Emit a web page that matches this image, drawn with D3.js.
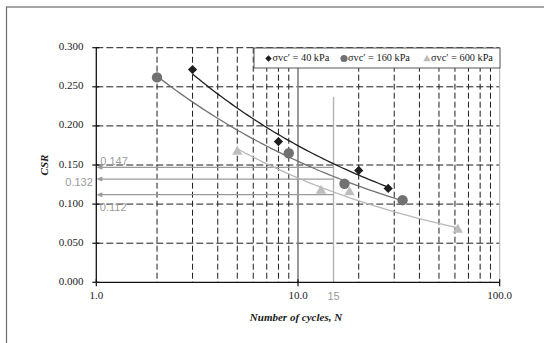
<!DOCTYPE html>
<html>
<head>
<meta charset="utf-8">
<script src="https://cdn.jsdelivr.net/npm/d3@7"></script>
<style>
  html, body { margin: 0; padding: 0; background: #fff; }
  svg { display: block; }
</style>
</head>
<body>
<svg id="chart" width="544" height="343"></svg>
<script>
// Cyclic strength: CSR versus number of cycles for three confining stresses
const seriesNames = ["σvc′ = 40 kPa", "σvc′ = 160 kPa", "σvc′ = 600 kPa"];
const cycles40  = [3, 8, 20, 28];
const csr40     = [0.272, 0.180, 0.143, 0.120];
const cycles160 = [2, 9, 17, 33];
const csr160    = [0.262, 0.165, 0.126, 0.105];
const cycles600 = [5, 13, 18, 62];
const csr600    = [0.168, 0.118, 0.116, 0.068];

const refCycles = 15;
const refCsr = [0.147, 0.132, 0.112];

const xTickValues = [1, 10, 100];
const xTickLabels = ["1.0", "10.0", "100.0"];
const yTickValues = [0, 0.05, 0.1, 0.15, 0.2, 0.25, 0.3];
const yTickLabels = ["0.000", "0.050", "0.100", "0.150", "0.200", "0.250", "0.300"];

const svg = d3.select("#chart");
const serif = "'Liberation Serif', 'Times New Roman', serif";
const sans = "'Liberation Sans', Arial, sans-serif";

const plotLeft = 96.3, plotRight = 499.7, plotTop = 47.7, plotBottom = 282.3;
const x = d3.scaleLog().domain([1, 100]).range([plotLeft, plotRight]);
const y = d3.scaleLinear().domain([0, 0.3]).range([plotBottom, plotTop]);

// outer chart frame
svg.append("rect").attr("x", 6.5).attr("y", 7).attr("width", 600).attr("height", 400)
  .attr("fill", "none").attr("stroke", "#6a6a6a").attr("stroke-width", 1.2);

// grid
const minorX = [];
[1, 10].forEach(d => { for (let k = 2; k <= 9; k++) minorX.push(d * k); });
const grid = svg.append("g");
grid.selectAll(".vx").data(minorX).join("line")
  .attr("x1", d => x(d)).attr("x2", d => x(d)).attr("y1", plotTop).attr("y2", plotBottom)
  .attr("stroke", "#1e1e1e").attr("stroke-width", 1).attr("stroke-dasharray", "6,3");
grid.selectAll(".hy").data(yTickValues.slice(1)).join("line")
  .attr("x1", plotLeft).attr("x2", plotRight).attr("y1", d => y(d)).attr("y2", d => y(d))
  .attr("stroke", "#1e1e1e").attr("stroke-width", 1).attr("stroke-dasharray", "7,3");
grid.append("line").attr("x1", x(10)).attr("x2", x(10)).attr("y1", plotTop).attr("y2", plotBottom)
  .attr("stroke", "#808080").attr("stroke-width", 1.6);
grid.append("line").attr("x1", x(100)).attr("x2", x(100)).attr("y1", plotTop).attr("y2", plotBottom)
  .attr("stroke", "#b0b0b0").attr("stroke-width", 1);

// reference line at N = 15 and arrows to the CSR axis
const refG = svg.append("g");
refG.append("line").attr("x1", x(refCycles)).attr("x2", x(refCycles))
  .attr("y1", y(0.237)).attr("y2", plotBottom)
  .attr("stroke", "#b3b3b3").attr("stroke-width", 1.4);
refG.selectAll(".arr").data(refCsr).join("line")
  .attr("x1", x(refCycles)).attr("x2", plotLeft + 4).attr("y1", d => y(d)).attr("y2", d => y(d))
  .attr("stroke", "#9a9a9a").attr("stroke-width", 1.3);
refG.selectAll(".head").data(refCsr).join("path")
  .attr("d", d => `M${plotLeft},${y(d)} L${plotLeft + 6},${y(d) - 2.5} L${plotLeft + 6},${y(d) + 2.5} Z`)
  .attr("fill", "#9a9a9a");
const refLabelPos = [
  { v: refCsr[0], x: plotLeft + 4, dy: -5, anchor: "start" },
  { v: refCsr[1], x: plotLeft - 3.5, dy: 4.5, anchor: "end" },
  { v: refCsr[2], x: plotLeft + 3.5, dy: 13.5, anchor: "start" }
];
refG.selectAll(".rl").data(refLabelPos).join("text")
  .attr("x", d => d.x).attr("y", d => y(d.v) + d.dy)
  .attr("text-anchor", d => d.anchor).attr("dominant-baseline", "middle")
  .attr("font-family", sans).attr("font-size", 11).attr("fill", "#9a9a9a")
  .text(d => d3.format(".3f")(d.v));
refG.append("text").attr("x", x(refCycles)).attr("y", 297)
  .attr("text-anchor", "middle").attr("dominant-baseline", "middle")
  .attr("font-family", sans).attr("font-size", 11).attr("fill", "#9a9a9a")
  .text(String(refCycles));

// axes
const axisG = svg.append("g");
axisG.append("line").attr("x1", plotLeft).attr("x2", plotLeft).attr("y1", plotTop).attr("y2", plotBottom)
  .attr("stroke", "#111").attr("stroke-width", 1.3);
axisG.append("line").attr("x1", plotLeft).attr("x2", plotRight).attr("y1", plotBottom).attr("y2", plotBottom)
  .attr("stroke", "#111").attr("stroke-width", 1.3);
axisG.selectAll(".yt").data(yTickValues).join("line")
  .attr("x1", plotLeft - 4).attr("x2", plotLeft + 3).attr("y1", d => y(d)).attr("y2", d => y(d))
  .attr("stroke", "#111").attr("stroke-width", 1.2);
axisG.selectAll(".xt").data(xTickValues).join("line")
  .attr("x1", d => x(d)).attr("x2", d => x(d)).attr("y1", plotBottom - 3).attr("y2", plotBottom + 4)
  .attr("stroke", "#111").attr("stroke-width", 1.2);
axisG.selectAll(".yl").data(yTickValues).join("text")
  .attr("x", 83.5).attr("y", d => y(d)).attr("text-anchor", "end").attr("dominant-baseline", "middle")
  .attr("font-family", serif).attr("font-size", 11).attr("fill", "#1a1a1a")
  .text((d, i) => yTickLabels[i]);
axisG.selectAll(".xl").data(xTickValues).join("text")
  .attr("x", d => x(d)).attr("y", 296.5).attr("text-anchor", "middle").attr("dominant-baseline", "middle")
  .attr("font-family", serif).attr("font-size", 11).attr("fill", "#1a1a1a")
  .text((d, i) => xTickLabels[i]);

// axis titles
svg.append("text").attr("transform", `translate(45,${(plotTop + plotBottom) / 2})rotate(-90)`)
  .attr("text-anchor", "middle").attr("dominant-baseline", "middle")
  .attr("font-family", serif).attr("font-size", 11).attr("font-weight", "bold").attr("font-style", "italic")
  .attr("fill", "#1a1a1a").text("CSR");
svg.append("text").attr("x", 296).attr("y", 318.5)
  .attr("text-anchor", "middle").attr("dominant-baseline", "middle")
  .attr("font-family", serif).attr("font-size", 11).attr("font-weight", "bold").attr("font-style", "italic")
  .attr("fill", "#1a1a1a").text("Number of cycles, N");

// power-law trendlines fitted to each series (least squares in log space)
function powerFit(ns, cs) {
  const lx = ns.map(Math.log), ly = cs.map(Math.log);
  const mx = d3.mean(lx), my = d3.mean(ly);
  const b = d3.sum(lx, (v, i) => (v - mx) * (ly[i] - my)) / d3.sum(lx, v => (v - mx) * (v - mx));
  const a = Math.exp(my - b * mx);
  return n => a * Math.pow(n, b);
}

const series = [
  { name: seriesNames[0], n: cycles40,  c: csr40,  color: "#1f1f1f", line: "#1f1f1f", shape: "diamond" },
  { name: seriesNames[1], n: cycles160, c: csr160, color: "#717171", line: "#717171", shape: "circle" },
  { name: seriesNames[2], n: cycles600, c: csr600, color: "#bdbdbd", line: "#b8b8b8", shape: "triangle" }
];

const line = d3.line().x(d => x(d[0])).y(d => y(d[1]));
series.forEach(s => {
  const f = powerFit(s.n, s.c);
  const n0 = d3.min(s.n), n1 = d3.max(s.n);
  const pts = d3.range(0, 61).map(i => {
    const n = n0 * Math.pow(n1 / n0, i / 60);
    return [n, f(n)];
  });
  svg.append("path").attr("d", line(pts)).attr("fill", "none")
    .attr("stroke", s.line).attr("stroke-width", 1.3);
});

function marker(g, shape, cx, cy, size, color) {
  if (shape === "diamond") {
    g.append("path").attr("d", `M${cx},${cy - size} L${cx + size},${cy} L${cx},${cy + size} L${cx - size},${cy} Z`).attr("fill", color);
  } else if (shape === "circle") {
    g.append("circle").attr("cx", cx).attr("cy", cy).attr("r", size).attr("fill", color);
  } else {
    g.append("path").attr("d", `M${cx},${cy - size * 1.05} L${cx + size * 1.05},${cy + size * 0.75} L${cx - size * 1.05},${cy + size * 0.75} Z`).attr("fill", color);
  }
}

const markG = svg.append("g");
series.forEach(s => {
  s.n.forEach((n, i) => {
    const size = s.shape === "diamond" ? 4.6 : (s.shape === "circle" ? 5.2 : 5);
    marker(markG, s.shape, x(n), y(s.c[i]), size, s.color);
  });
});

// legend
const lg = svg.append("g");
lg.append("rect").attr("x", 254).attr("y", 48).attr("width", 246).attr("height", 20)
  .attr("fill", "#fff").attr("stroke", "#555").attr("stroke-width", 1);
const legendX = [268.5, 344, 427];
series.forEach((s, i) => {
  const size = s.shape === "diamond" ? 3.2 : 3.6;
  marker(lg, s.shape, legendX[i], 58.5, size, s.color);
  lg.append("text").attr("x", legendX[i] + 4).attr("y", 58.5).attr("dominant-baseline", "middle")
    .attr("font-family", serif).attr("font-size", 10.3).attr("fill", "#1a1a1a").text(s.name);
});
</script>
</body>
</html>
